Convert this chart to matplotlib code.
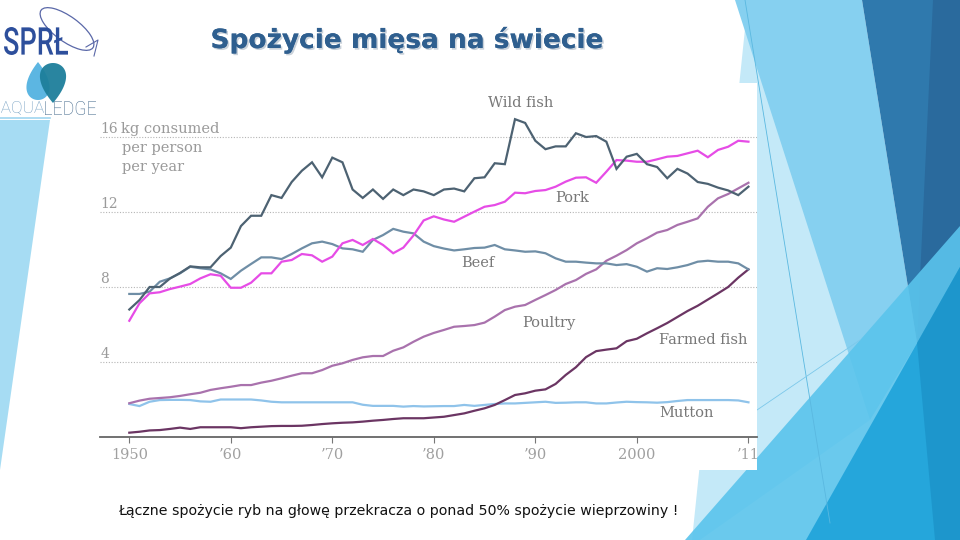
import numpy as np
import matplotlib
matplotlib.use("Agg")
import matplotlib.pyplot as plt
from matplotlib.patches import Polygon, Rectangle, Ellipse, PathPatch
from matplotlib.textpath import TextPath
from matplotlib.font_manager import FontProperties
from matplotlib.transforms import Affine2D
import matplotlib.patheffects as pe

# ---------------- data ----------------
years = list(range(1950, 2012))
wild_fish = [6.8, 7.3, 8.0, 8.0, 8.45, 8.75, 9.1, 9.05, 9.05, 9.65,
             10.1, 11.25, 11.8, 11.8, 12.9, 12.75, 13.6, 14.2, 14.65, 13.85,
             14.9, 14.65, 13.2, 12.75, 13.2, 12.7, 13.2, 12.9, 13.2, 13.1,
             12.9, 13.2, 13.25, 13.1, 13.8, 13.85, 14.6, 14.55, 16.95, 16.75,
             15.8, 15.35, 15.5, 15.5, 16.2, 16.0, 16.05, 15.75, 14.3, 14.95,
             15.1, 14.55, 14.4, 13.8, 14.3, 14.05, 13.6, 13.5, 13.3, 13.15,
             12.9, 13.35]
pork = [6.2, 7.13, 7.66, 7.72, 7.89, 8.02, 8.16, 8.46, 8.68, 8.6,
        7.96, 7.96, 8.23, 8.73, 8.73, 9.35, 9.44, 9.76, 9.69, 9.35,
        9.62, 10.33, 10.51, 10.24, 10.56, 10.24, 9.8, 10.1, 10.75, 11.55,
        11.77, 11.6, 11.48, 11.75, 12.02, 12.28, 12.37, 12.55, 13.03, 13.0,
        13.12, 13.17, 13.35, 13.62, 13.83, 13.85, 13.56, 14.15, 14.77, 14.74,
        14.68, 14.68, 14.81, 14.95, 14.99, 15.13, 15.27, 14.92, 15.31, 15.48,
        15.8, 15.75]
beef = [7.63, 7.63, 7.75, 8.28, 8.46, 8.73, 9.08, 9.0, 8.94, 8.73,
        8.43, 8.87, 9.23, 9.58, 9.58, 9.49, 9.76, 10.06, 10.33, 10.42,
        10.29, 10.06, 10.01, 9.88, 10.51, 10.77, 11.1, 10.95, 10.86, 10.42,
        10.18, 10.05, 9.95, 10.01, 10.08, 10.1, 10.24, 10.01, 9.95, 9.88,
        9.9, 9.8, 9.53, 9.35, 9.35, 9.3, 9.26, 9.26, 9.17, 9.22,
        9.08, 8.82, 9.0, 8.96, 9.05, 9.17, 9.35, 9.4, 9.35, 9.35,
        9.26, 8.94]
poultry = [1.8, 1.94, 2.04, 2.08, 2.12, 2.19, 2.28, 2.36, 2.51, 2.6,
           2.68, 2.77, 2.77, 2.9, 3.0, 3.13, 3.27, 3.4, 3.4, 3.57,
           3.8, 3.93, 4.11, 4.25, 4.32, 4.32, 4.6, 4.78, 5.08, 5.35,
           5.55, 5.71, 5.88, 5.92, 5.97, 6.1, 6.42, 6.77, 6.95, 7.04,
           7.31, 7.57, 7.84, 8.16, 8.37, 8.7, 8.94, 9.4, 9.67, 9.97,
           10.33, 10.6, 10.9, 11.04, 11.31, 11.48, 11.66, 12.28, 12.73, 12.96,
           13.26, 13.56]
farmed_fish = [0.23, 0.28, 0.35, 0.37, 0.43, 0.5, 0.43, 0.52, 0.52, 0.52,
               0.52, 0.47, 0.52, 0.55, 0.58, 0.59, 0.59, 0.6, 0.64, 0.69,
               0.73, 0.76, 0.78, 0.82, 0.87, 0.91, 0.96, 1.0, 1.0, 1.0,
               1.04, 1.08, 1.17, 1.26, 1.4, 1.53, 1.71, 1.97, 2.24, 2.33,
               2.47, 2.54, 2.83, 3.31, 3.72, 4.26, 4.58, 4.66, 4.73, 5.11,
               5.24, 5.53, 5.8, 6.08, 6.4, 6.72, 7.0, 7.33, 7.66, 8.0,
               8.5, 8.94]
mutton = [1.76, 1.65, 1.88, 1.97, 1.98, 1.98, 1.97, 1.9, 1.88, 2.0,
          2.0, 2.0, 2.0, 1.95, 1.88, 1.85, 1.85, 1.85, 1.85, 1.85,
          1.85, 1.85, 1.85, 1.72, 1.66, 1.66, 1.66, 1.62, 1.65, 1.63,
          1.64, 1.65, 1.65, 1.71, 1.66, 1.71, 1.76, 1.79, 1.79, 1.82,
          1.85, 1.88, 1.82, 1.83, 1.85, 1.85, 1.79, 1.79, 1.84, 1.88,
          1.86, 1.85, 1.83, 1.86, 1.92, 1.97, 1.97, 1.97, 1.97, 1.97,
          1.95, 1.85]

series_names = ["Mutton", "Farmed fish", "Poultry", "Beef", "Pork", "Wild fish"]
series_values = [mutton, farmed_fish, poultry, beef, pork, wild_fish]
series_colors = ["#8fc3ea", "#6b3563", "#a972ad", "#6f8ea6", "#e64ce6", "#4d6272"]
label_pos = {"Wild fish": (1988.6, 17.8), "Pork": (1993.6, 12.75), "Beef": (1984.3, 9.28),
             "Poultry": (1991.3, 6.08), "Farmed fish": (2006.5, 5.17), "Mutton": (2004.9, 1.28)}

y_ticks = [4, 8, 12, 16]
unit_lines = ["kg consumed", "per person", "per year"]
x_ticks = [1950, 1960, 1970, 1980, 1990, 2000, 2011]
x_labels = ["1950", "\u201960", "\u201970", "\u201980", "\u201990", "2000", "\u201911"]

title = "Spożycie mięsa na świecie"
caption = "Łączne spożycie ryb na głowę przekracza o ponad 50% spożycie wieprzowiny !"

# ---------------- figure ----------------
W, H = 960, 540
fig = plt.figure(figsize=(9.6, 5.4), dpi=100)
fig.patch.set_facecolor("white")

bg = fig.add_axes([0, 0, 1, 1])
bg.set_xlim(0, W)
bg.set_ylim(H, 0)
bg.axis("off")

def poly(pts, color, alpha=1.0, z=1):
    bg.add_patch(Polygon(pts, closed=True, facecolor=color, edgecolor="none", alpha=alpha, zorder=z))

# left decoration
poly([(0, 120), (50, 120), (0, 470)], "#a6dcf3", z=1)

# right decorations
poly([(748, 0), (870, 420), (700, 540), (692, 540)], "#c4e9f8", z=1)
poly([(735, 0), (862, 0), (917, 343), (870, 420)], "#86d0f0", z=2)
poly([(862, 0), (960, 0), (960, 267), (917, 343)], "#2f79ad", z=3)
poly([(933, 0), (960, 0), (960, 267), (917, 343)], "#2a6a9d", z=3)
poly([(685, 540), (960, 540), (960, 226)], "#5ac4ec", alpha=0.9, z=4)
poly([(806, 540), (960, 540), (960, 267)], "#22a4db", alpha=0.95, z=5)
poly([(917, 343), (960, 267), (960, 540), (935, 540)], "#1b93c9", alpha=0.8, z=5)
bg.plot([745, 830], [0, 523], color="#5ab8e0", lw=0.6, zorder=6)
bg.plot([757, 860], [410, 340], color="#7cc8ea", lw=0.6, zorder=6)

# white chart picture
bg.add_patch(Rectangle((95, 83), 662, 387, facecolor="white", edgecolor="none", zorder=7))

# ---- logos ----
def text_in_box(s, x0, y0, x1, y1, color, weight="bold", family="DejaVu Sans", z=9):
    tp = TextPath((0, 0), s, size=10, prop=FontProperties(family=family, weight=weight))
    ext = tp.get_extents()
    sx = (x1 - x0) / ext.width
    sy = (y1 - y0) / ext.height
    tr = Affine2D().translate(-ext.x0, -ext.y0).scale(sx, -sy).translate(x0, y1)
    bg.add_patch(PathPatch(tr.transform_path(tp), facecolor=color, edgecolor="none", zorder=z))

bg.add_patch(Ellipse((67, 29), 64, 25, angle=36, facecolor="none", edgecolor="#5a68a8", lw=0.9, zorder=8))
bg.plot([86, 98, 94], [47, 40, 56], color="#5a68a8", lw=0.8, zorder=8)
text_in_box("SPRŁ", 4, 27, 68, 55, "#2d4f9c", weight="medium", family="Roboto")

t = np.linspace(0, 2 * np.pi, 120)
lx = 38 + 15 * np.sin(t) * np.sin(t / 2)
ly = 81 - 19 * np.cos(t)
bg.add_patch(Polygon(np.column_stack([lx, ly]), facecolor="#5cb6e2", edgecolor="none", zorder=8))
tx = 53 + 17 * np.sin(t) * np.sin(t / 2)
ty = 83 + 20 * np.cos(t)
bg.add_patch(Polygon(np.column_stack([tx, ty]), facecolor="#1d7f9b", edgecolor="none", alpha=0.95, zorder=9))
text_in_box("AQUA", 1, 101, 44, 115, "#6f9cc0", weight="light", family="Roboto")
text_in_box("LEDGE", 45, 101, 96, 115, "#3d6488", weight="light", family="Roboto")
bg.plot([0, 50], [117.5, 117.5], color="#9fd6f0", lw=1.2, zorder=9)

# ---- title & caption ----
fig.text(407 / W, 1 - 40 / H, title, ha="center", va="center", fontsize=19, fontweight="bold",
         family="DejaVu Sans", color="#2f5f8f",
         path_effects=[pe.withSimplePatchShadow(offset=(1.2, -1.2), shadow_rgbFace="#a8b4c2", alpha=0.6),
                       pe.Normal()])
fig.text(118 / W, 1 - 511 / H, caption, ha="left", va="center", fontsize=10.15,
         family="DejaVu Sans", color="#111111")

# ---------------- chart ----------------
px_l, px_r, px_b, px_t = 100, 757, 437, 100
ax = fig.add_axes([px_l / W, 1 - px_b / H, (px_r - px_l) / W, (px_b - px_t) / H])
ax.set_facecolor("none")
x0 = 1950 - (129.3 - px_l) / 10.15
x1 = 1950 + (px_r - 129.3) / 10.15
ax.set_xlim(x0, x1)
ax.set_ylim(0, (px_b - px_t) / 18.75)

serif = "DejaVu Serif"
grey = "#9a9a9a"
for v in y_ticks:
    ax.axhline(v, color="#b5b5b5", lw=0.8, ls=(0, (1, 1.5)), zorder=1)
    ax.text(x0 + 0.05, v + 0.2, str(v), ha="left", va="baseline", fontsize=10,
            family=serif, color=grey)

ax.text(1949.15, 16 + 0.2, unit_lines[0], ha="left", va="baseline", fontsize=10.5, family=serif, color=grey)
ax.text(1949.3, 16 - 0.82, unit_lines[1], ha="left", va="baseline", fontsize=10.5, family=serif, color=grey)
ax.text(1949.3, 16 - 1.83, unit_lines[2], ha="left", va="baseline", fontsize=10.5, family=serif, color=grey)

for name, vals, col in zip(series_names, series_values, series_colors):
    ax.plot(years, vals, color=col, lw=1.6, solid_joinstyle="miter", zorder=3)
    lx_, ly_ = label_pos[name]
    ax.text(lx_, ly_, name, ha="center", va="center", fontsize=10.5, family=serif, color="#787878", zorder=4)

for s in ["top", "right", "left"]:
    ax.spines[s].set_visible(False)
ax.spines["bottom"].set_color("#666666")
ax.spines["bottom"].set_linewidth(1.3)
ax.set_yticks([])
ax.set_xticks(x_ticks)
ax.set_xticklabels(x_labels, family=serif, fontsize=10.5, color="#a0a0a0")
ax.tick_params(axis="x", direction="out", length=4, width=0.8, color="#777777", pad=4)

fig.savefig("out.png", dpi=100)
